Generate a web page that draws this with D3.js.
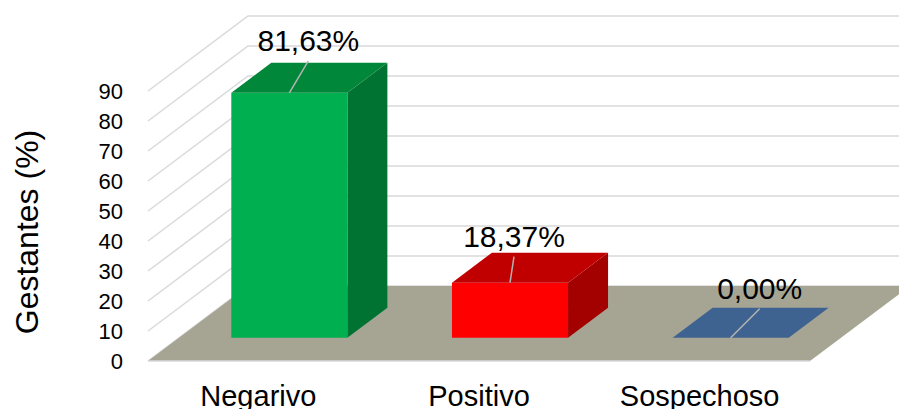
<!DOCTYPE html>
<html>
<head>
<meta charset="utf-8">
<script src="https://cdn.jsdelivr.net/npm/d3@7"></script>
<style>
  body{margin:0;background:#fff;}
  svg{display:block;font-family:"Liberation Sans",Arial,sans-serif;}
</style>
</head>
<body>
<script>
/* datos */
const categorias = ["Negarivo", "Positivo", "Sospechoso"];
const valores = [81.63, 18.37, 0.00];
const etiquetas = ["81,63%", "18,37%", "0,00%"];
const ticks = [0, 10, 20, 30, 40, 50, 60, 70, 80, 90];

/* colores de cada barra: frente, arriba, lado */
const colFrente = ["#00b050", "#ff0000", "#3f6391"];
const colArriba = ["#00873a", "#c00000", "#3f6391"];
const colLado = ["#007332", "#a30000", "#3f6391"];
/* desplazamiento manual de las etiquetas (como en excel) */
const etiquetaDx = [19, 4, 29];
const etiquetaDy = [42, 36, 39];

const ancho = 899, alto = 409;
const svg = d3.select("body").append("svg").attr("width", ancho).attr("height", alto);

const x = d3.scaleBand().domain(categorias).range([148, 810]).paddingInner(0.474).paddingOuter(0.237);
const xc = d3.scaleBand().domain(categorias).range([148, 810]);
const y = d3.scaleLinear().domain([0, 90]).range([361, 91]);

/* profundidad */
const prof = {dx: 100, dy: -75};
function p(px, py, z){ return [px + prof.dx*z, py + prof.dy*z]; }
const z0 = 0.31, z1 = 0.71;

const linea = d3.line();

/* lineas de cuadricula: pared izquierda y pared del fondo */
const grid = svg.append("g");
ticks.forEach(t => {
    grid.append("path").attr("d", linea([p(148, y(t), 0), p(148, y(t), 1), p(910, y(t) + prof.dy, 0)]))
        .attr("fill", "none").attr("stroke", "#d9d9d9").attr("stroke-width", 1.5);
});

/* piso */
svg.append("path")
    .attr("d", linea([p(148, y(0), 0), p(810, y(0), 0), p(810, y(0), 1), p(148, y(0), 1)]) + "Z")
    .attr("fill", "#a6a594");
svg.append("path").attr("d", linea([p(148, y(0), 0), p(810, y(0), 0)]))
    .attr("stroke", "#d9d9d9").attr("stroke-width", 1.5);

/* etiquetas del eje y */
svg.append("g").selectAll("text").data(ticks).join("text")
    .attr("x", 123).attr("y", d => y(d) + 8)
    .attr("text-anchor", "end").attr("font-size", 22).attr("fill", "#000")
    .text(d => d);

svg.append("text")
    .attr("transform", "translate(38,232) rotate(-90)")
    .attr("text-anchor", "middle").attr("font-size", 32)
    .text("Gestantes (%)");

/* barras 3d */
const barras = svg.append("g");
categorias.forEach((c, i) => {
    const xa = x(c), xb = x(c) + x.bandwidth();
    const yt = y(valores[i]), yb = y(0);
    const frente = [p(xa, yb, z0), p(xb, yb, z0), p(xb, yt, z0), p(xa, yt, z0)];
    const arriba = [p(xa, yt, z0), p(xb, yt, z0), p(xb, yt, z1), p(xa, yt, z1)];
    const lado = [p(xb, yb, z0), p(xb, yb, z1), p(xb, yt, z1), p(xb, yt, z0)];
    if(valores[i] > 0){
        barras.append("path").attr("d", linea(lado) + "Z").attr("fill", colLado[i]);
        barras.append("path").attr("d", linea(frente) + "Z").attr("fill", colFrente[i]);
    }
    barras.append("path").attr("d", linea(arriba) + "Z").attr("fill", colArriba[i]);

    /* etiqueta con linea guia */
    const centro = p(xa + x.bandwidth()/2, yt, z0);
    const lx = centro[0] + etiquetaDx[i];
    const ly = centro[1] - etiquetaDy[i];
    barras.append("path").attr("d", linea([centro, [lx, ly + 10]]))
        .attr("stroke", "#b3b3b3").attr("stroke-width", 1.5);
    barras.append("text").attr("x", lx).attr("y", ly)
        .attr("text-anchor", "middle").attr("font-size", 30).attr("fill", "#000")
        .text(etiquetas[i]);
});

/* categorias */
svg.append("g").selectAll("text").data(categorias).join("text")
    .attr("x", d => xc(d) + xc.bandwidth()/2).attr("y", 406)
    .attr("text-anchor", "middle").attr("font-size", 29).attr("fill", "#000")
    .text(d => d);
</script>
</body>
</html>
